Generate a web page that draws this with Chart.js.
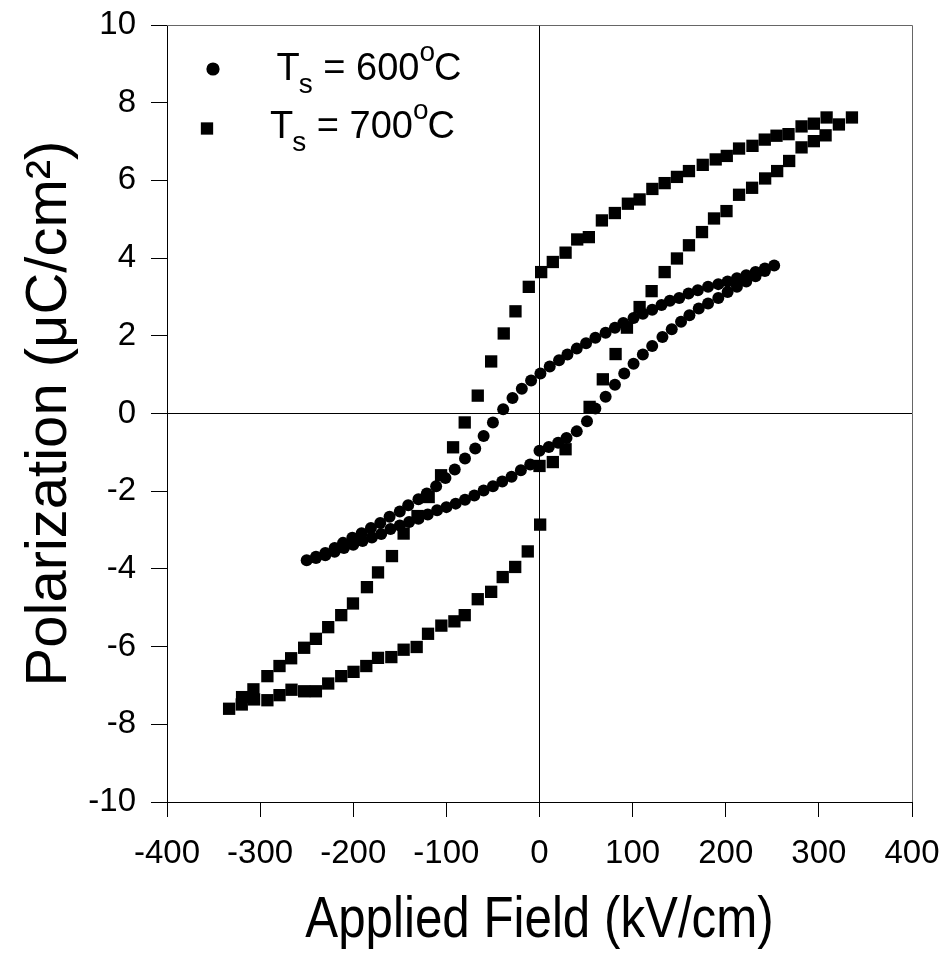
<!DOCTYPE html>
<html>
<head>
<meta charset="utf-8">
<script src="https://cdn.jsdelivr.net/npm/chart.js@4/dist/chart.umd.min.js"></script>
<style>
  html, body { margin: 0; padding: 0; background: #fff; }
  canvas { display: block; }
</style>
</head>
<body>
<canvas id="c" width="948" height="953"></canvas>
<script>
// ---- Data ----
const xTickValues = [-400, -300, -200, -100, 0, 100, 200, 300, 400];
const yTickValues = [-10, -8, -6, -4, -2, 0, 2, 4, 6, 8, 10];

const xAxisTitle = 'Applied Field (kV/cm)';
const yAxisTitle = 'Polarization (μC/cm²)';

const seriesNames = ['Ts = 600°C', 'Ts = 700°C'];
const legendSub = ['s', 's'];
const legendValue = ['600', '700'];

// Ts = 600 C: branch going from +E max to -E max
const field600Down = [252,242,232,222,212,202,192,181,170,160,150,140,131,121,111,101,90,81,71,60,50,40,30,21,11,1,-9,-19,-29,-39,-50,-60,-69,-80,-91,-101,-111,-121,-130,-141,-150,-161,-171,-181,-191,-201,-211,-220,-230,-240,-250];
const pol600Down   = [3.81,3.73,3.64,3.56,3.48,3.40,3.33,3.26,3.17,3.09,2.97,2.90,2.79,2.67,2.57,2.46,2.33,2.21,2.08,1.95,1.81,1.67,1.52,1.37,1.21,1.03,0.85,0.64,0.40,0.11,-0.23,-0.58,-0.90,-1.16,-1.44,-1.66,-1.87,-2.06,-2.21,-2.36,-2.52,-2.66,-2.82,-2.95,-3.08,-3.20,-3.33,-3.46,-3.59,-3.69,-3.78];
// Ts = 600 C: branch going back from -E max to +E max
const field600Up = [-240,-230,-220,-210,-200,-190,-180,-170,-160,-150,-140,-130,-120,-110,-100,-90,-80,-70,-60,-50,-40,-30,-20,-10,0,10,20,29,40,51,60,71,81,91,101,111,121,132,142,152,161,171,181,192,202,212,222,232,242];
const pol600Up   = [-3.72,-3.65,-3.56,-3.46,-3.38,-3.28,-3.19,-3.10,-2.97,-2.88,-2.79,-2.71,-2.60,-2.49,-2.41,-2.32,-2.22,-2.11,-1.98,-1.87,-1.75,-1.63,-1.46,-1.31,-0.96,-0.86,-0.75,-0.63,-0.46,-0.20,0.13,0.43,0.74,1.03,1.28,1.52,1.74,1.97,2.17,2.36,2.53,2.70,2.83,2.97,3.13,3.26,3.40,3.53,3.67];

// Ts = 700 C: branch going from +E max to -E max
const field700Down = [335.5,321.5,308.3,294.6,281.4,267.4,254.5,241.9,228.7,214.3,201.1,189.2,175.3,160.5,147.6,134.4,121.2,107.5,94.9,80.9,67,53,40.5,28,14.3,1.8,-11.5,-25.8,-38.4,-51.9,-66.3,-80.3,-92.8,-105.7,-119,-131,-145.9,-158.4,-173.4,-185.3,-200.3,-212.9,-226.9,-240.1,-252.7,-266.7,-279.2,-292.2,-307.2,-319.4,-333.3];
const pol700Down   = [7.62,7.44,7.62,7.46,7.39,7.19,7.15,7.05,6.89,6.82,6.63,6.54,6.40,6.24,6.09,5.93,5.78,5.51,5.40,5.16,4.97,4.54,4.48,4.14,3.90,3.64,3.26,2.63,2.06,1.34,0.46,-0.23,-0.87,-1.59,-2.15,-2.64,-3.09,-3.67,-4.09,-4.47,-4.89,-5.19,-5.50,-5.80,-6.03,-6.30,-6.50,-6.76,-7.10,-7.30,-7.60];
// Ts = 700 C: branch going back from -E max to +E max
const field700Up = [-319.7,-306.5,-292.2,-279.2,-266.3,-252.7,-240.1,-226.9,-212.9,-199.7,-186,-173.4,-159.1,-145.9,-131.9,-119.7,-105.4,-91.4,-80.3,-66.3,-51.9,-39.5,-26.1,-12.6,0.7,0,14.3,28,53.8,68,81.7,93.9,107.5,120.4,134.4,147.6,160.5,174.5,187.4,200.8,214.3,228.3,242.3,255.2,268.1,281.4,294.6,307.2];
const pol700Up   = [-7.49,-7.36,-7.38,-7.25,-7.11,-7.15,-7.15,-6.95,-6.76,-6.65,-6.50,-6.29,-6.27,-6.08,-6.01,-5.67,-5.46,-5.35,-5.19,-4.78,-4.59,-4.21,-3.95,-3.55,-2.86,-1.35,-1.25,-0.92,0.17,0.88,1.53,2.21,2.74,3.15,3.64,3.99,4.33,4.67,5.02,5.21,5.63,5.81,6.05,6.24,6.50,6.85,7.01,7.16];

// ---- Build the point lists for the library ----
function toPoints(xs, ys) { return xs.map((x, i) => ({ x: x, y: ys[i] })); }
const points600 = toPoints(field600Down, pol600Down).concat(toPoints(field600Up, pol600Up));
const points700 = toPoints(field700Down, pol700Down).concat(toPoints(field700Up, pol700Up));

const FONT = "'Liberation Sans', Arial, Helvetica, sans-serif";

// frame (top + right edges of the plot box)
const framePlugin = {
  id: 'frame',
  beforeDatasetsDraw(chart) {
    const { ctx, chartArea: a } = chart;
    ctx.save();
    ctx.strokeStyle = '#666';
    ctx.lineWidth = 1;
    ctx.beginPath();
    const t = Math.round(a.top) + 0.5, r = Math.round(a.right) + 0.5;
    ctx.moveTo(Math.round(a.left), t);
    ctx.lineTo(r, t);
    ctx.lineTo(r, Math.round(a.bottom));
    ctx.stroke();
    ctx.restore();
  }
};

// x axis title, drawn in a slightly condensed face like the original
const xTitlePlugin = {
  id: 'xTitle',
  afterDraw(chart) {
    const { ctx, chartArea: a } = chart;
    const cx = (a.left + a.right) / 2;
    ctx.save();
    ctx.font = '58px ' + FONT;
    ctx.fillStyle = '#000';
    ctx.textAlign = 'center';
    ctx.textBaseline = 'alphabetic';
    ctx.translate(cx, a.bottom + 135);
    ctx.scale(0.85, 1);
    ctx.fillText(xAxisTitle, 0, 0);
    ctx.restore();
  }
};

// legend inside the plot with subscript / superscript text
const legendPlugin = {
  id: 'innerLegend',
  afterDraw(chart) {
    const { ctx, chartArea: a } = chart;
    const markerPos = [[46, 44], [40, 103.5]];
    const textPos = [[109.5, 54.6], [103, 112.6]];
    ctx.save();
    chart.data.datasets.forEach((ds, i) => {
      ctx.fillStyle = '#000';
      ctx.strokeStyle = '#000';
      const r = ds.pointStyle === 'circle' ? 6.6 : ds.pointRadius;
      Chart.helpers.drawPoint(ctx, { pointStyle: ds.pointStyle, radius: r, rotation: 0, borderWidth: 0 },
        a.left + markerPos[i][0], a.top + markerPos[i][1]);
      let x = a.left + textPos[i][0];
      const y = a.top + textPos[i][1];
      ctx.textBaseline = 'alphabetic';
      ctx.textAlign = 'left';
      const big = '38px ' + FONT, small = '28px ' + FONT;
      ctx.font = big; ctx.fillText('T', x, y); x += ctx.measureText('T').width - 1;
      ctx.font = small; ctx.fillText(legendSub[i], x, y + 13); x += ctx.measureText(legendSub[i]).width;
      ctx.font = big; const mid = ' = ' + legendValue[i];
      ctx.fillText(mid, x, y); x += ctx.measureText(mid).width;
      ctx.font = small; ctx.fillText('o', x, y - 19); x += ctx.measureText('o').width - 1;
      ctx.font = big; ctx.fillText('C', x, y);
    });
    ctx.restore();
  }
};

const zeroLine = (c) => (c.tick && c.tick.value === 0) ? '#000' : 'rgba(0,0,0,0)';

new Chart(document.getElementById('c'), {
  type: 'scatter',
  data: {
    datasets: [
      { label: seriesNames[0], data: points600, pointStyle: 'circle', pointRadius: 6, pointHoverRadius: 6,
        backgroundColor: '#000', borderColor: '#000', borderWidth: 0, showLine: false, order: 0 },
      { label: seriesNames[1], data: points700, pointStyle: 'rect', pointRadius: 8.7, pointHoverRadius: 8.7,
        backgroundColor: '#000', borderColor: '#000', borderWidth: 0, showLine: false, order: 1 }
    ]
  },
  options: {
    responsive: false,
    animation: false,
    devicePixelRatio: 1,
    layout: { padding: { top: 25, right: 36, left: 0, bottom: 0 } },
    plugins: { legend: { display: false }, tooltip: { enabled: false } },
    scales: {
      x: {
        type: 'linear', position: 'bottom', min: -400, max: 400,
        afterBuildTicks: (s) => { s.ticks = xTickValues.map(v => ({ value: v })); },
        afterFit: (s) => { s.height = 151; s.paddingLeft = 0; s.paddingRight = 0; },
        ticks: { color: '#000', font: { family: FONT, size: 33 }, padding: 17, maxRotation: 0, autoSkip: false },
        grid: { color: zeroLine, lineWidth: 1, tickLength: 15, tickColor: '#000', drawOnChartArea: true },
        border: { display: true, color: '#000', width: 1 },
        title: { display: false, text: xAxisTitle }
      },
      y: {
        type: 'linear', position: 'left', min: -10, max: 10,
        afterBuildTicks: (s) => { s.ticks = yTickValues.map(v => ({ value: v })); },
        afterFit: (s) => { s.width = 167; s.paddingTop = 0; s.paddingBottom = 0; },
        ticks: { color: '#000', font: { family: FONT, size: 33 }, padding: 15, autoSkip: false },
        grid: { color: zeroLine, lineWidth: 1, tickLength: 16, tickColor: '#000', drawOnChartArea: true },
        border: { display: true, color: '#000', width: 1 },
        title: { display: true, text: yAxisTitle, color: '#000',
          font: { family: FONT, size: 58 }, padding: { top: 15, bottom: 0 } }
      }
    }
  },
  plugins: [framePlugin, xTitlePlugin, legendPlugin]
});
</script>
</body>
</html>
